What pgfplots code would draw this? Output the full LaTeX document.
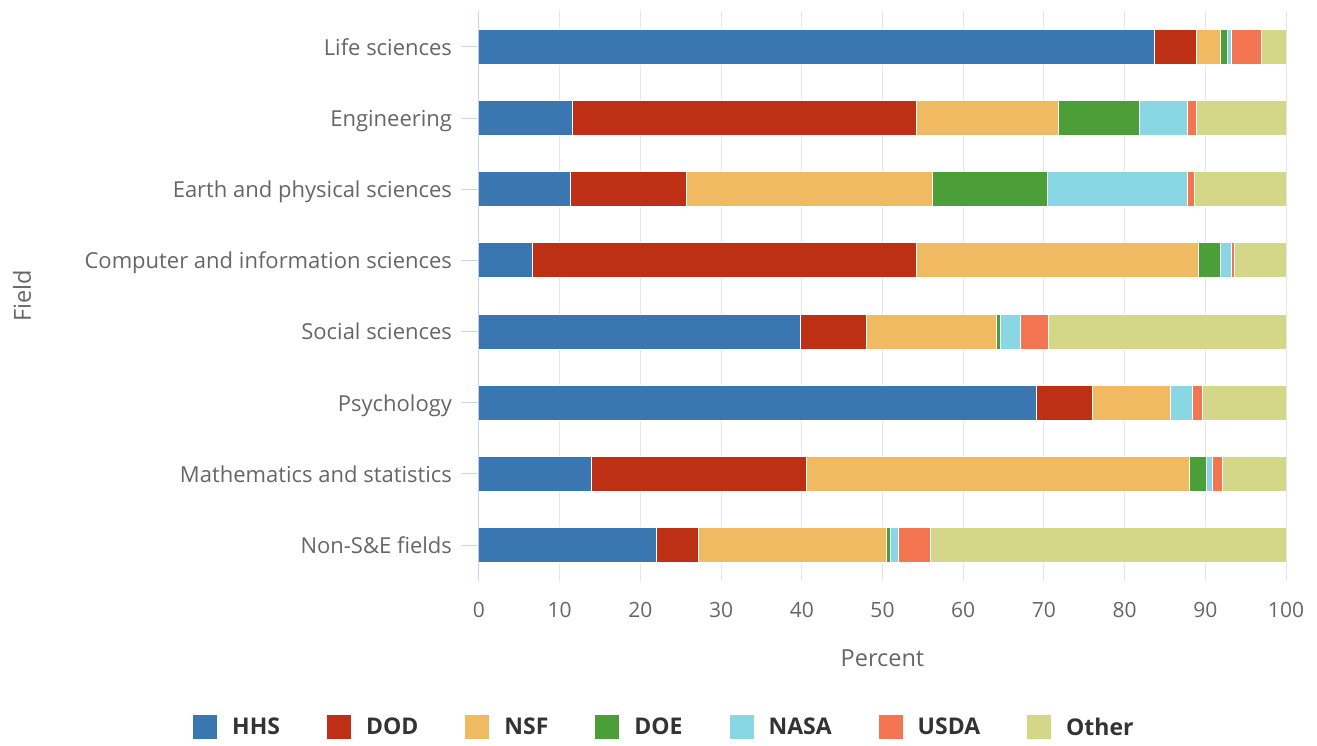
\documentclass[border=0pt]{standalone}
\usepackage{pgfplots}
\usepackage{pgfplotstable}
\pgfplotsset{compat=1.18}
\usepackage{fontspec}
\setmainfont{Open Sans}
\definecolor{hhs}{HTML}{3A77B0}
\definecolor{dod}{HTML}{BD3015}
\definecolor{nsf}{HTML}{F0BA63}
\definecolor{doe}{HTML}{4C9E39}
\definecolor{nasa}{HTML}{89D7E2}
\definecolor{usda}{HTML}{F47551}
\definecolor{other}{HTML}{D4D688}
\definecolor{gridc}{HTML}{E6E6E6}
\definecolor{axisc}{HTML}{CCD6EB}
\definecolor{tickc}{HTML}{666666}
\definecolor{legc}{HTML}{333333}
\pgfplotstableread{
idx hhs dod nsf doe nasa usda other
0 83.7 5.2 3.0 0.9 0.5 3.7 3.0
1 11.6 42.6 17.6 10.1 5.9 1.1 11.1
2 11.3 14.4 30.5 14.3 17.3 0.8 11.4
3 6.6 47.6 35.0 2.7 1.4 0.3 6.4
4 39.8 8.2 16.1 0.5 2.5 3.5 29.4
5 69.1 6.9 9.7 0.0 2.7 1.2 10.4
6 14.0 26.6 47.5 2.0 0.8 1.2 7.9
7 22.0 5.2 23.3 0.5 1.0 3.9 44.1
}\datatable
\begin{document}
\begin{tikzpicture}
\path[use as bounding box] (-479pt,-164.4pt) rectangle (838pt,580.6pt);
\begin{axis}[
  at={(0pt,0pt)}, anchor=south west,
  scale only axis, width=807pt, height=569.2pt,
  xbar stacked, bar width=35pt,
  legend image code/.code={\fill[#1,draw=none] (0pt,-12pt) rectangle (24pt,12pt);},
  xmin=0, xmax=100, ymin=-0.5, ymax=7.5, y dir=reverse,
  ytick={0,...,7},
  yticklabels={Life sciences,Engineering,Earth and physical sciences,Computer and information sciences,Social sciences,Psychology,Mathematics and statistics,Non-S\&E fields},
  xtick={0,10,...,100},
  xmajorgrids, grid style={draw=gridc, line width=1pt},
  axis lines*=left,
  x axis line style={draw=none},
  y axis line style={draw=axisc, line width=1pt},
  tick align=outside, major tick length=18pt,
  xtick style={draw=none},
  ytick style={draw=axisc, line width=1pt},
  /pgf/number format/assume math mode=true,
  xticklabel style={font=\fontsize{21}{25}\selectfont, text=tickc},
  yticklabel style={font=\fontsize{22}{26}\selectfont, text=tickc, anchor=base east, xshift=-5.5pt, yshift=-8.3pt},
  xlabel={Percent}, ylabel={Field},
  every axis x label/.style={at={(rel axis cs:0.5,0)}, yshift=-78.1pt, anchor=center, font=\fontsize{23.5}{28}\selectfont, text=tickc},
  every axis y label/.style={at={(rel axis cs:0,0.5)}, xshift=-457pt, rotate=90, anchor=center, font=\fontsize{23.5}{28}\selectfont, text=tickc},
  legend columns=-1,
  legend style={at={(0.2285,-0.2573)}, anchor=center, draw=none, fill=none,
    font=\bfseries\fontsize{23}{27}\selectfont, text=legc,
    nodes={inner sep=0pt},
    /tikz/every odd column/.append style={column sep=15pt},
    /tikz/every even column/.append style={column sep=47pt}},
]
\addplot[fill=hhs, draw=white, line width=1pt] table[x=hhs, y=idx] {\datatable};
\addplot[fill=dod, draw=white, line width=1pt] table[x=dod, y=idx] {\datatable};
\addplot[fill=nsf, draw=white, line width=1pt] table[x=nsf, y=idx] {\datatable};
\addplot[fill=doe, draw=white, line width=1pt] table[x=doe, y=idx] {\datatable};
\addplot[fill=nasa, draw=white, line width=1pt] table[x=nasa, y=idx] {\datatable};
\addplot[fill=usda, draw=white, line width=1pt] table[x=usda, y=idx] {\datatable};
\addplot[fill=other, draw=white, line width=1pt] table[x=other, y=idx] {\datatable};
\legend{HHS,DOD,NSF,DOE,NASA,USDA,Other}
\end{axis}
\end{tikzpicture}
\end{document}
